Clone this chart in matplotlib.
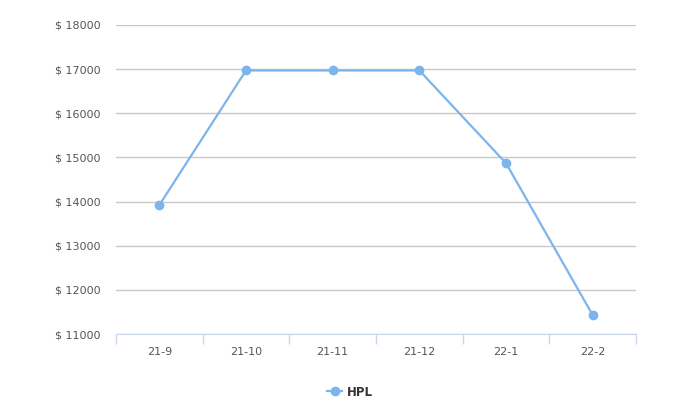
import numpy as np
import matplotlib.pyplot as plt
from matplotlib.ticker import FixedLocator, NullFormatter

# data
months = ["21-9", "21-10", "21-11", "21-12", "22-1", "22-2"]
hpl = [13920, 16970, 16970, 16970, 14870, 11430]
y_ticks = [11000, 12000, 13000, 14000, 15000, 16000, 17000, 18000]

W, H = 684, 411
fig = plt.figure(figsize=(W / 100, H / 100), dpi=100)
ax = fig.add_axes([116 / W, (H - 334) / H, 520 / W, 309 / H])

x = np.arange(len(months))
line_color = "#7cb5ec"
ax.plot(x, hpl, color=line_color, lw=1.6, marker="o", ms=6, label="HPL", zorder=3)

ax.set_xlim(-0.5, len(months) - 0.5)
ax.set_ylim(11000, 18000)
ax.set_yticks(y_ticks)
ax.set_yticklabels(["$ %d" % v for v in y_ticks])

# category labels centred, tick marks at the boundaries
ax.set_xticks(x)
ax.set_xticklabels(months)
ax.tick_params(axis="x", which="major", length=0, pad=9, labelsize=8, labelcolor="#555555")
ax.xaxis.set_minor_locator(FixedLocator(np.arange(-0.5, len(months), 1)))
ax.xaxis.set_minor_formatter(NullFormatter())
ax.tick_params(axis="x", which="minor", length=7, color="#ccd6eb", width=1, direction="out")
ax.tick_params(axis="y", length=0, pad=11, labelsize=8, labelcolor="#555555")

ax.grid(axis="y", color="#c8c8c8", lw=1)
ax.set_axisbelow(True)
for side in ["top", "right", "left"]:
    ax.spines[side].set_visible(False)
ax.spines["bottom"].set_color("#ccd6eb")

fig.legend(loc="center", bbox_to_anchor=(350 / W, (H - 392) / H), frameon=False,
           prop={"size": 8.5, "weight": "bold"}, handlelength=1.3, handletextpad=0.4,
           labelcolor="#333333")

fig.savefig("out.png", dpi=100)
